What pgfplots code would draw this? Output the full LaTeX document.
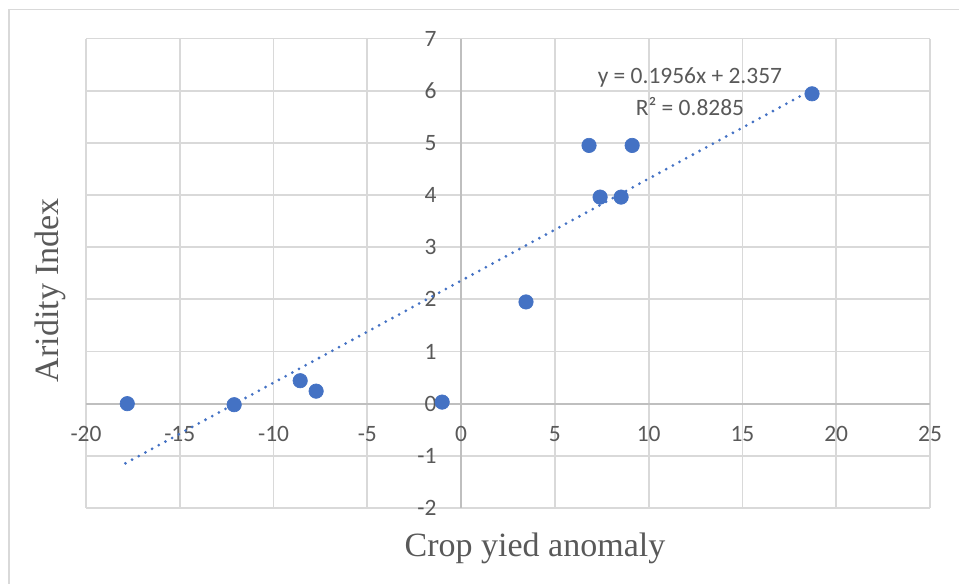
\documentclass[border=0pt]{standalone}
\usepackage{pgfplots}
\pgfplotsset{compat=1.18}
\usepackage{fontspec}
\setmainfont{Liberation Serif}
\newfontfamily\calibri{Carlito}
\definecolor{exblue}{HTML}{4472C4}
\definecolor{extext}{HTML}{595959}
\definecolor{exgrid}{HTML}{D9D9D9}
\definecolor{exaxis}{HTML}{BFBFBF}
\begin{document}
\begin{tikzpicture}
\useasboundingbox (-64.5pt,-57pt) rectangle (654.75pt,381pt);
\draw[exgrid, line width=1.4pt] (-57.75pt,-70pt) -- (-57.75pt,373.9pt) -- (670pt,373.9pt);
\begin{axis}[
 at={(0pt,0pt)}, anchor=south west,
 scale only axis, width=633pt, height=352.125pt,
 xmin=-20, xmax=25, ymin=-2, ymax=7,
 axis lines=middle,
 axis line style={exaxis, line width=1.4pt, -},
 hide obscured x ticks=false, hide obscured y ticks=false,
 grid=major,
 major grid style={exgrid, line width=1.4pt},
 xtick={-20,-15,...,25}, ytick={-2,-1,...,7},
 major tick length=0pt,
 /pgf/number format/assume math mode=true,
 ticklabel style={font=\calibri\fontsize{17.6}{20}\selectfont, text=extext},
 xticklabel style={anchor=center, yshift=-23pt},
 yticklabel style={anchor=east, xshift=-15pt},
 xlabel={Crop yied anomaly}, ylabel={Aridity Index},
 label style={font=\fontsize{25.5}{30}\selectfont, text=extext},
 xlabel style={at={(axis description cs:0.532,-0.085)}, anchor=center},
 ylabel style={at={(axis description cs:-0.0427,0.464)}, anchor=center, rotate=90},
 clip=false,
]
\addplot[exblue, line width=2.3pt, line cap=round, dash pattern=on 0pt off 5.7pt, no marks] coordinates {(-17.9,-1.144) (18.7,6.015)};
\addplot[only marks, mark=*, mark size=5.4pt, mark options={draw=exblue, fill=exblue, line width=0.5pt}] coordinates {
(-17.8,0.0) (-12.1,-0.02) (-8.58,0.44) (-7.73,0.24) (-1.01,0.03)
(3.46,1.95) (6.82,4.95) (7.41,3.96) (8.53,3.96) (9.12,4.95) (18.71,5.94)};
\node[font=\calibri\fontsize{17.6}{20}\selectfont, text=extext] at (axis cs:12.2,6.26) {y = 0.1956x + 2.357};
\node[font=\calibri\fontsize{17.6}{20}\selectfont, text=extext] at (axis cs:12.2,5.69) {R² = 0.8285};
\end{axis}
\end{tikzpicture}
\end{document}
